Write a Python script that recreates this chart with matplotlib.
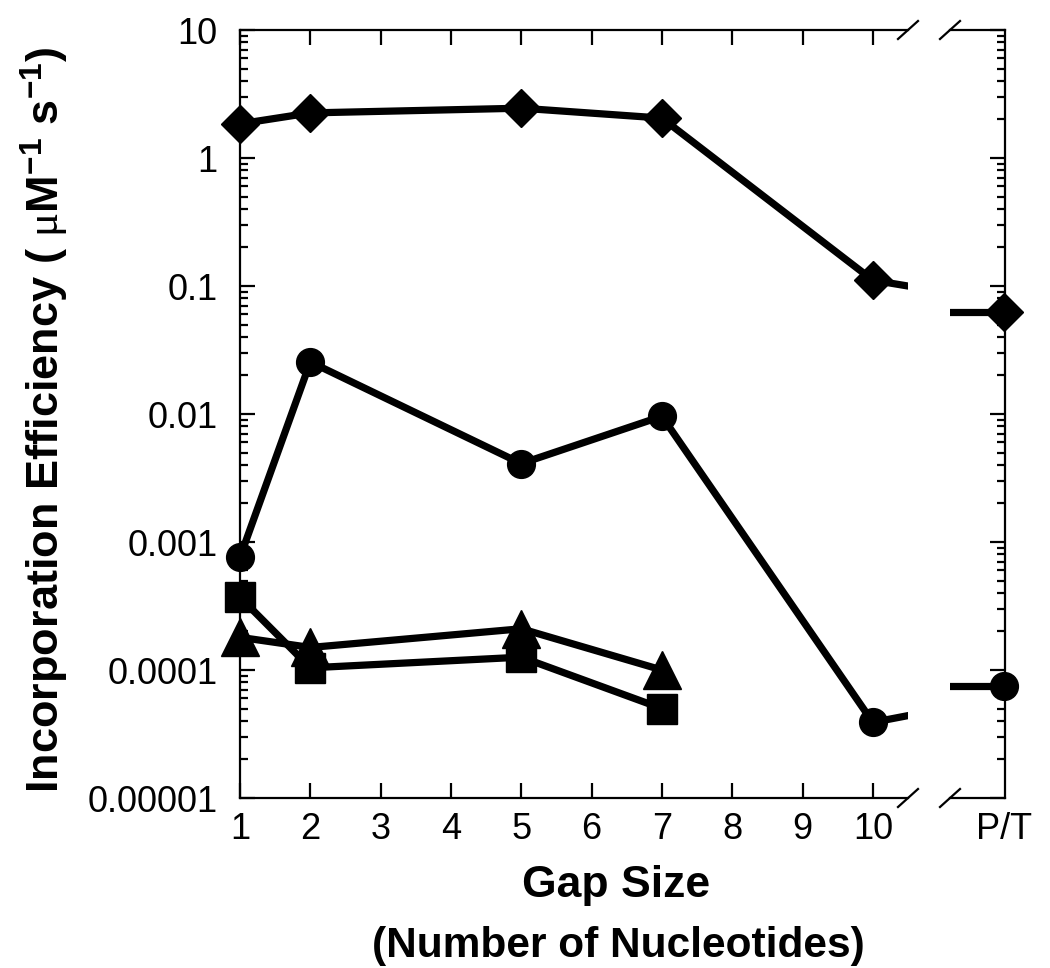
import numpy as np
import matplotlib.pyplot as plt
from matplotlib.ticker import FixedLocator, NullLocator, LogLocator

plt.rcParams['font.family'] = ['Liberation Sans', 'DejaVu Sans']
plt.rcParams['mathtext.fontset'] = 'custom'
plt.rcParams['mathtext.rm'] = 'Liberation Sans:bold'
plt.rcParams['mathtext.it'] = 'Liberation Serif'
plt.rcParams['mathtext.default'] = 'rm'

# data
gap = [1, 2, 5, 7, 10]
gap_short = [1, 2, 5, 7]
pt_pos = 12.7  # hidden x position of the P/T point behind the axis break

diamond = [1.85, 2.25, 2.45, 2.05, 0.111]
diamond_pt = 0.063
circle = [0.00076, 0.0255, 0.0041, 0.0096, 0.000039]
circle_pt = 0.000075
square = [0.00037, 0.000104, 0.000126, 0.00005]
triangle = [0.00018, 0.00015, 0.00021, 0.0001]

xticks = [1, 2, 3, 4, 5, 6, 7, 8, 9, 10]
yticks = [1e-5, 1e-4, 1e-3, 1e-2, 1e-1, 1, 10]
ytick_labels = ['0.00001', '0.0001', '0.001', '0.01', '0.1', '1', '10']

W, H = 1050, 968
fig = plt.figure(figsize=(W / 100, H / 100), dpi=100)
bottom = 1 - 798 / H
height = 768 / H
ax1 = fig.add_axes([240 / W, bottom, (908 - 240) / W, height])
ax2 = fig.add_axes([950 / W, bottom, (1005 - 950) / W, height])

for ax in (ax1, ax2):
    ax.set_yscale('log')
    ax.set_ylim(1e-5, 10)
    ax.yaxis.set_major_locator(FixedLocator(yticks))
    ax.yaxis.set_minor_locator(LogLocator(base=10, subs=np.arange(2, 10), numticks=20))
    for s in ax.spines.values():
        s.set_linewidth(1.6)
    ax.tick_params(which='major', direction='in', length=11, width=1.6, labelsize=26)
    ax.tick_params(which='minor', direction='in', length=6, width=1.6)
    ax.tick_params(axis='x', pad=10)
    ax.tick_params(axis='y', pad=16)

ax1.set_xlim(1, 10.5)
ax1.spines['right'].set_visible(False)
ax1.xaxis.set_major_locator(FixedLocator(xticks))
ax1.xaxis.set_minor_locator(NullLocator())
ax1.tick_params(axis='x', top=True)
ax1.tick_params(axis='y', left=True, right=False, which='both')
ax1.set_yticklabels(ytick_labels)

ax2.set_xlim(pt_pos - 0.78, pt_pos + 0.02)
ax2.spines['left'].set_visible(False)
ax2.xaxis.set_major_locator(FixedLocator([pt_pos]))
ax2.xaxis.set_minor_locator(NullLocator())
ax2.set_xticklabels(['P/T'])
ax2.tick_params(axis='x', length=0)
ax2.tick_params(axis='y', which='both', left=False, right=True, labelleft=False, labelright=False)

lw = 5.2
# diamonds and circles run on past the break to the P/T value
for vals, pt, mk, ms in [(diamond, diamond_pt, 'D', 19), (circle, circle_pt, 'o', 20)]:
    ax1.plot(gap + [pt_pos], vals + [pt], color='black', lw=lw, zorder=3)
    ax1.plot(gap, vals, ls='none', marker=mk, ms=ms, color='black', clip_on=False, zorder=4)
    ax2.plot([pt_pos - 1, pt_pos], [pt, pt], color='black', lw=lw, zorder=3)
    ax2.plot([pt_pos], [pt], ls='none', marker=mk, ms=ms, color='black', clip_on=False, zorder=4)

ax1.plot(gap_short, square, color='black', lw=lw, marker='s', ms=21, zorder=4, clip_on=False)
ax1.plot(gap_short, triangle, color='black', lw=lw, marker='^', ms=27.5, zorder=4, clip_on=False)

# axis break marks
kw = dict(color='black', lw=1.6, clip_on=False)
dy = 9 / 768
dx1 = 10 / 668
dx2 = 10 / 55
for yy in (0, 1):
    ax1.plot([1 - dx1, 1 + dx1], [yy - dy, yy + dy], transform=ax1.transAxes, **kw)
    ax2.plot([-dx2, dx2], [yy - dy, yy + dy], transform=ax2.transAxes, **kw)

fig.text(60 / W, 1 - 420 / H,
         'Incorporation Efficiency ( $\\mathit{\\mu}$M$^{-1}$ s$^{-1}$)',
         fontsize=32.5, fontweight='bold', rotation=90, rotation_mode='anchor',
         ha='center', va='baseline')
fig.text(616 / W, 1 - 897 / H, 'Gap Size', fontsize=32, fontweight='bold',
         ha='center', va='baseline')
fig.text(618 / W, 1 - 957 / H, '(Number of Nucleotides)', fontsize=30.5, fontweight='bold',
         ha='center', va='baseline')

fig.savefig('out.png', dpi=100)
